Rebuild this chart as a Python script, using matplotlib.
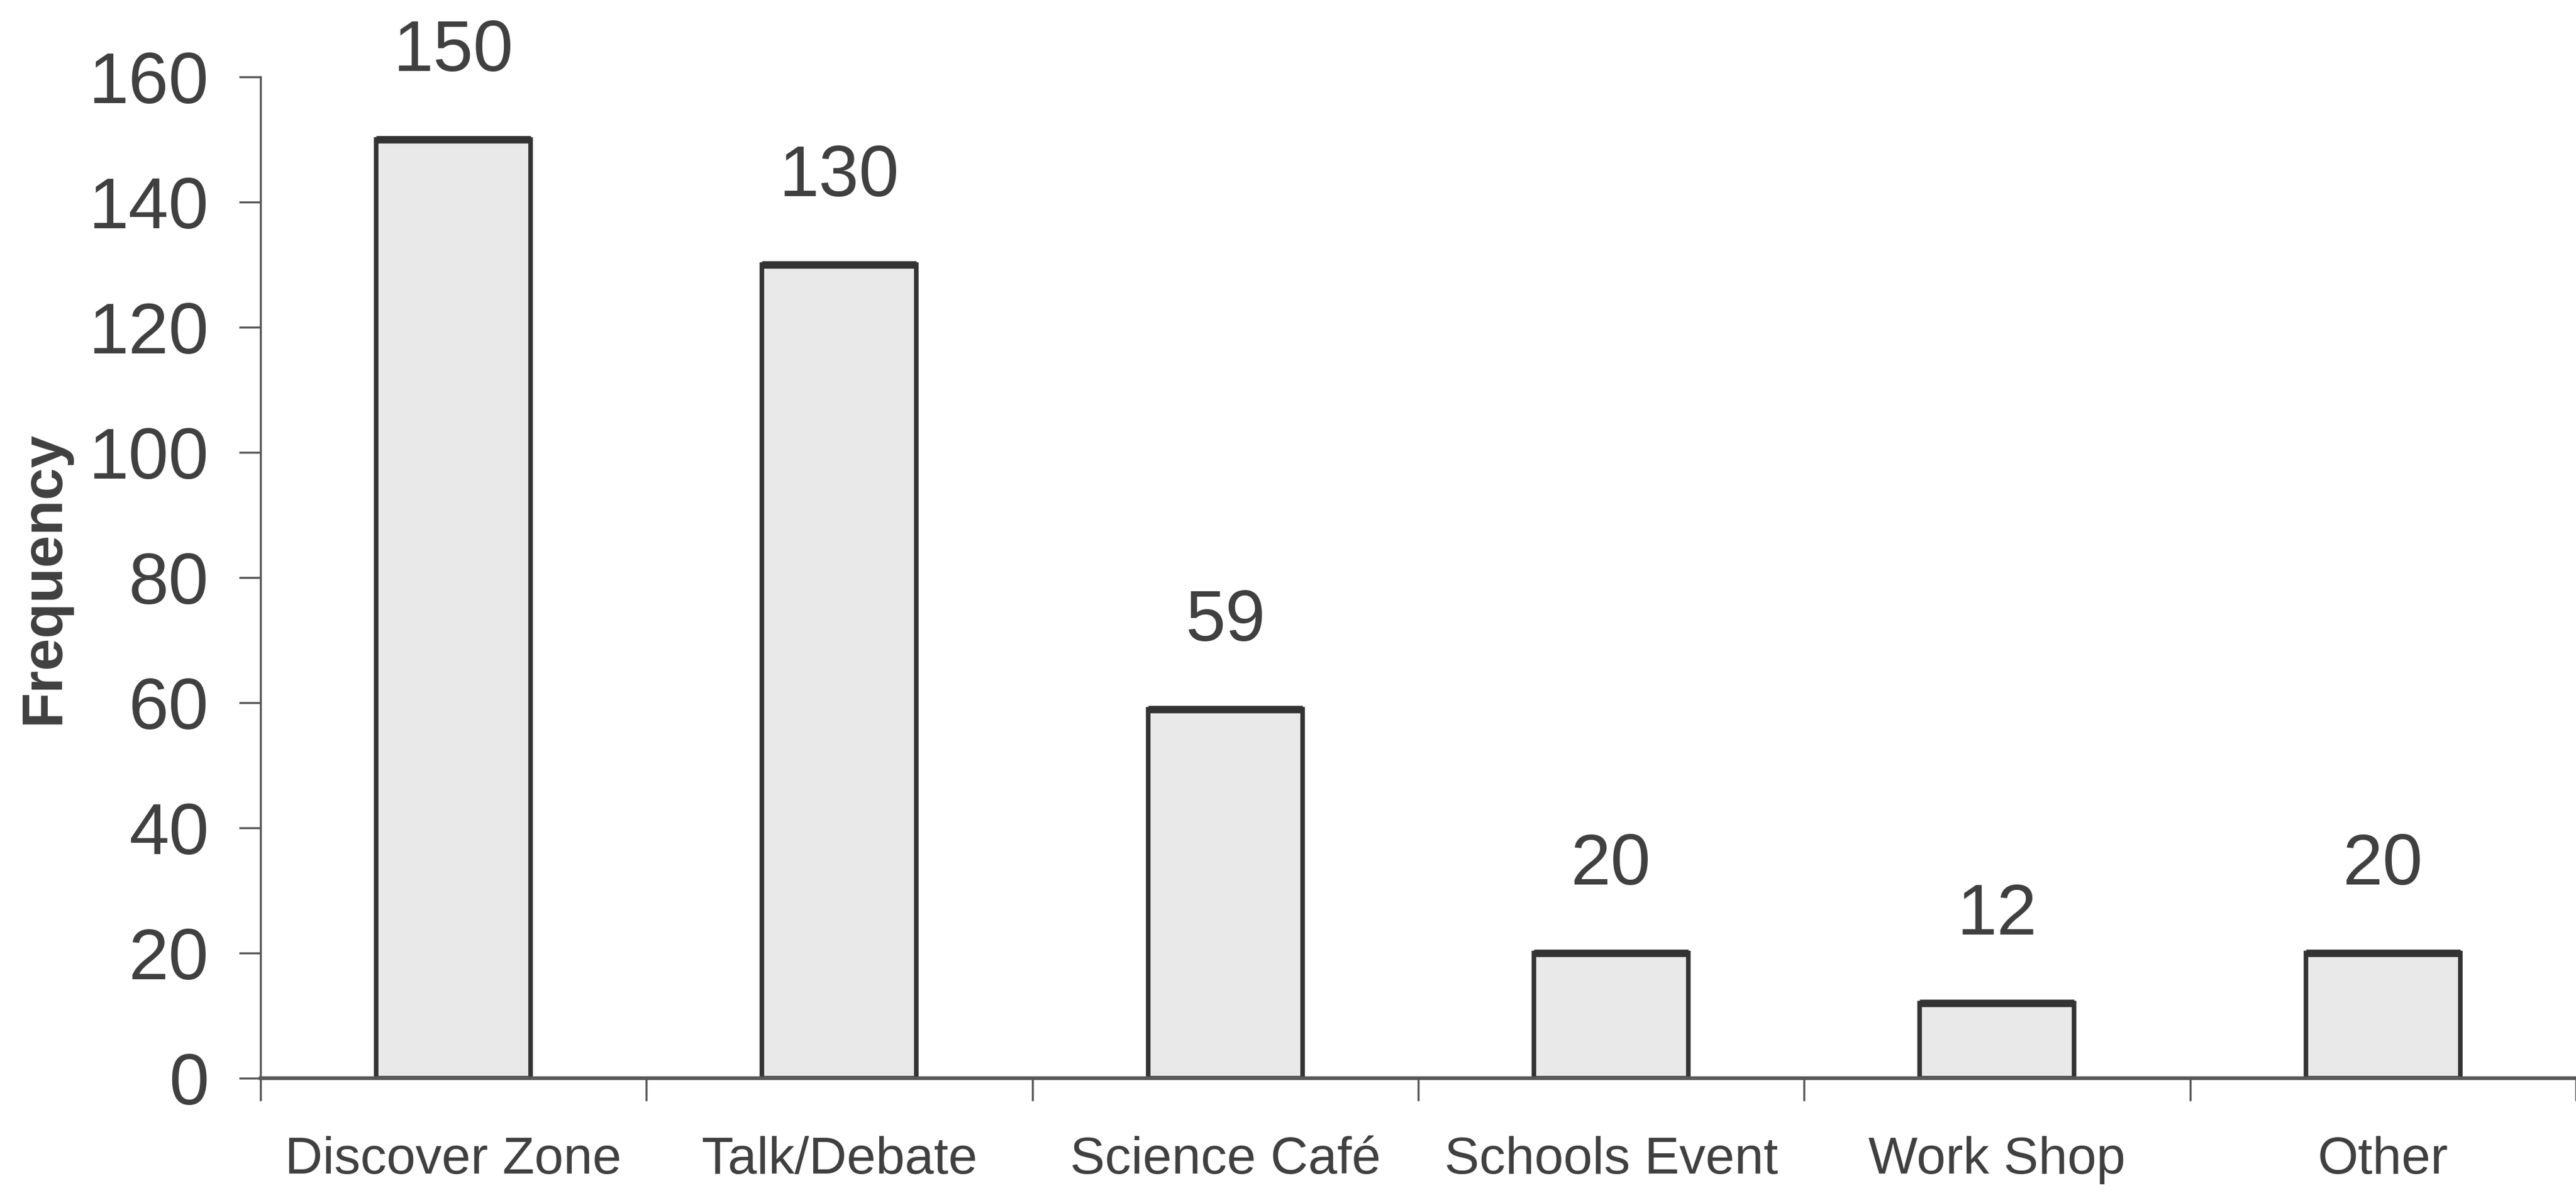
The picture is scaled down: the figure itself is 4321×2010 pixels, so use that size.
import numpy as np
import matplotlib
matplotlib.use("Agg")
import matplotlib.pyplot as plt

# event types and how many respondents picked each
categories = ["Discover Zone", "Talk/Debate", "Science Café", "Schools Event", "Work Shop", "Other"]
frequency = [150, 130, 59, 20, 12, 20]
y_ticks = [0, 20, 40, 60, 80, 100, 120, 140, 160]

plt.rcParams["font.family"] = ["Liberation Sans", "DejaVu Sans"]

text_color = "#404040"
axis_color = "#585858"
bar_fill = "#e9e9e9"
bar_edge = "#333333"

fig = plt.figure(figsize=(43.21, 20.10), dpi=100)
ax = fig.add_axes([0.1011, 0.1, 0.8989, 0.8358])

x = np.arange(len(categories))
bar_width = 0.4
ax.bar(x, frequency, width=bar_width, color=bar_fill, edgecolor=bar_edge, linewidth=5.5, zorder=2)
# heavier top edge on each bar
ax.hlines(frequency, x - bar_width / 2, x + bar_width / 2, color=bar_edge, linewidth=9, zorder=3)

for xi, v in zip(x, frequency):
    ax.annotate(str(v), (xi, v), xytext=(0, 105), textcoords="offset points",
                ha="center", va="center", fontsize=87, color=text_color)

ax.set_xlim(-0.5, 5.5)
ax.set_ylim(0, 160)
ax.set_yticks(y_ticks)
ax.set_yticklabels([str(t) for t in y_ticks], fontsize=87, color=text_color)

# category names sit between boundary ticks
ax.set_xticks(x)
ax.set_xticklabels(categories, fontsize=63, color=text_color)
ax.set_xticks(np.arange(-0.5, len(categories), 1.0), minor=True)
ax.tick_params(axis="x", which="major", length=0, pad=70)
ax.tick_params(axis="x", which="minor", length=27, width=2.5, color=axis_color, direction="out")
ax.tick_params(axis="y", length=26, width=2.5, color=axis_color, direction="out", pad=36)

ax.set_ylabel("Frequency", fontsize=70, fontweight="bold", color=text_color, labelpad=22)

for side in ["top", "right"]:
    ax.spines[side].set_visible(False)
ax.spines["left"].set_color(axis_color)
ax.spines["left"].set_linewidth(2.5)
ax.spines["bottom"].set_color(axis_color)
ax.spines["bottom"].set_linewidth(4.5)

fig.savefig("out.png", dpi=100, facecolor="white")
